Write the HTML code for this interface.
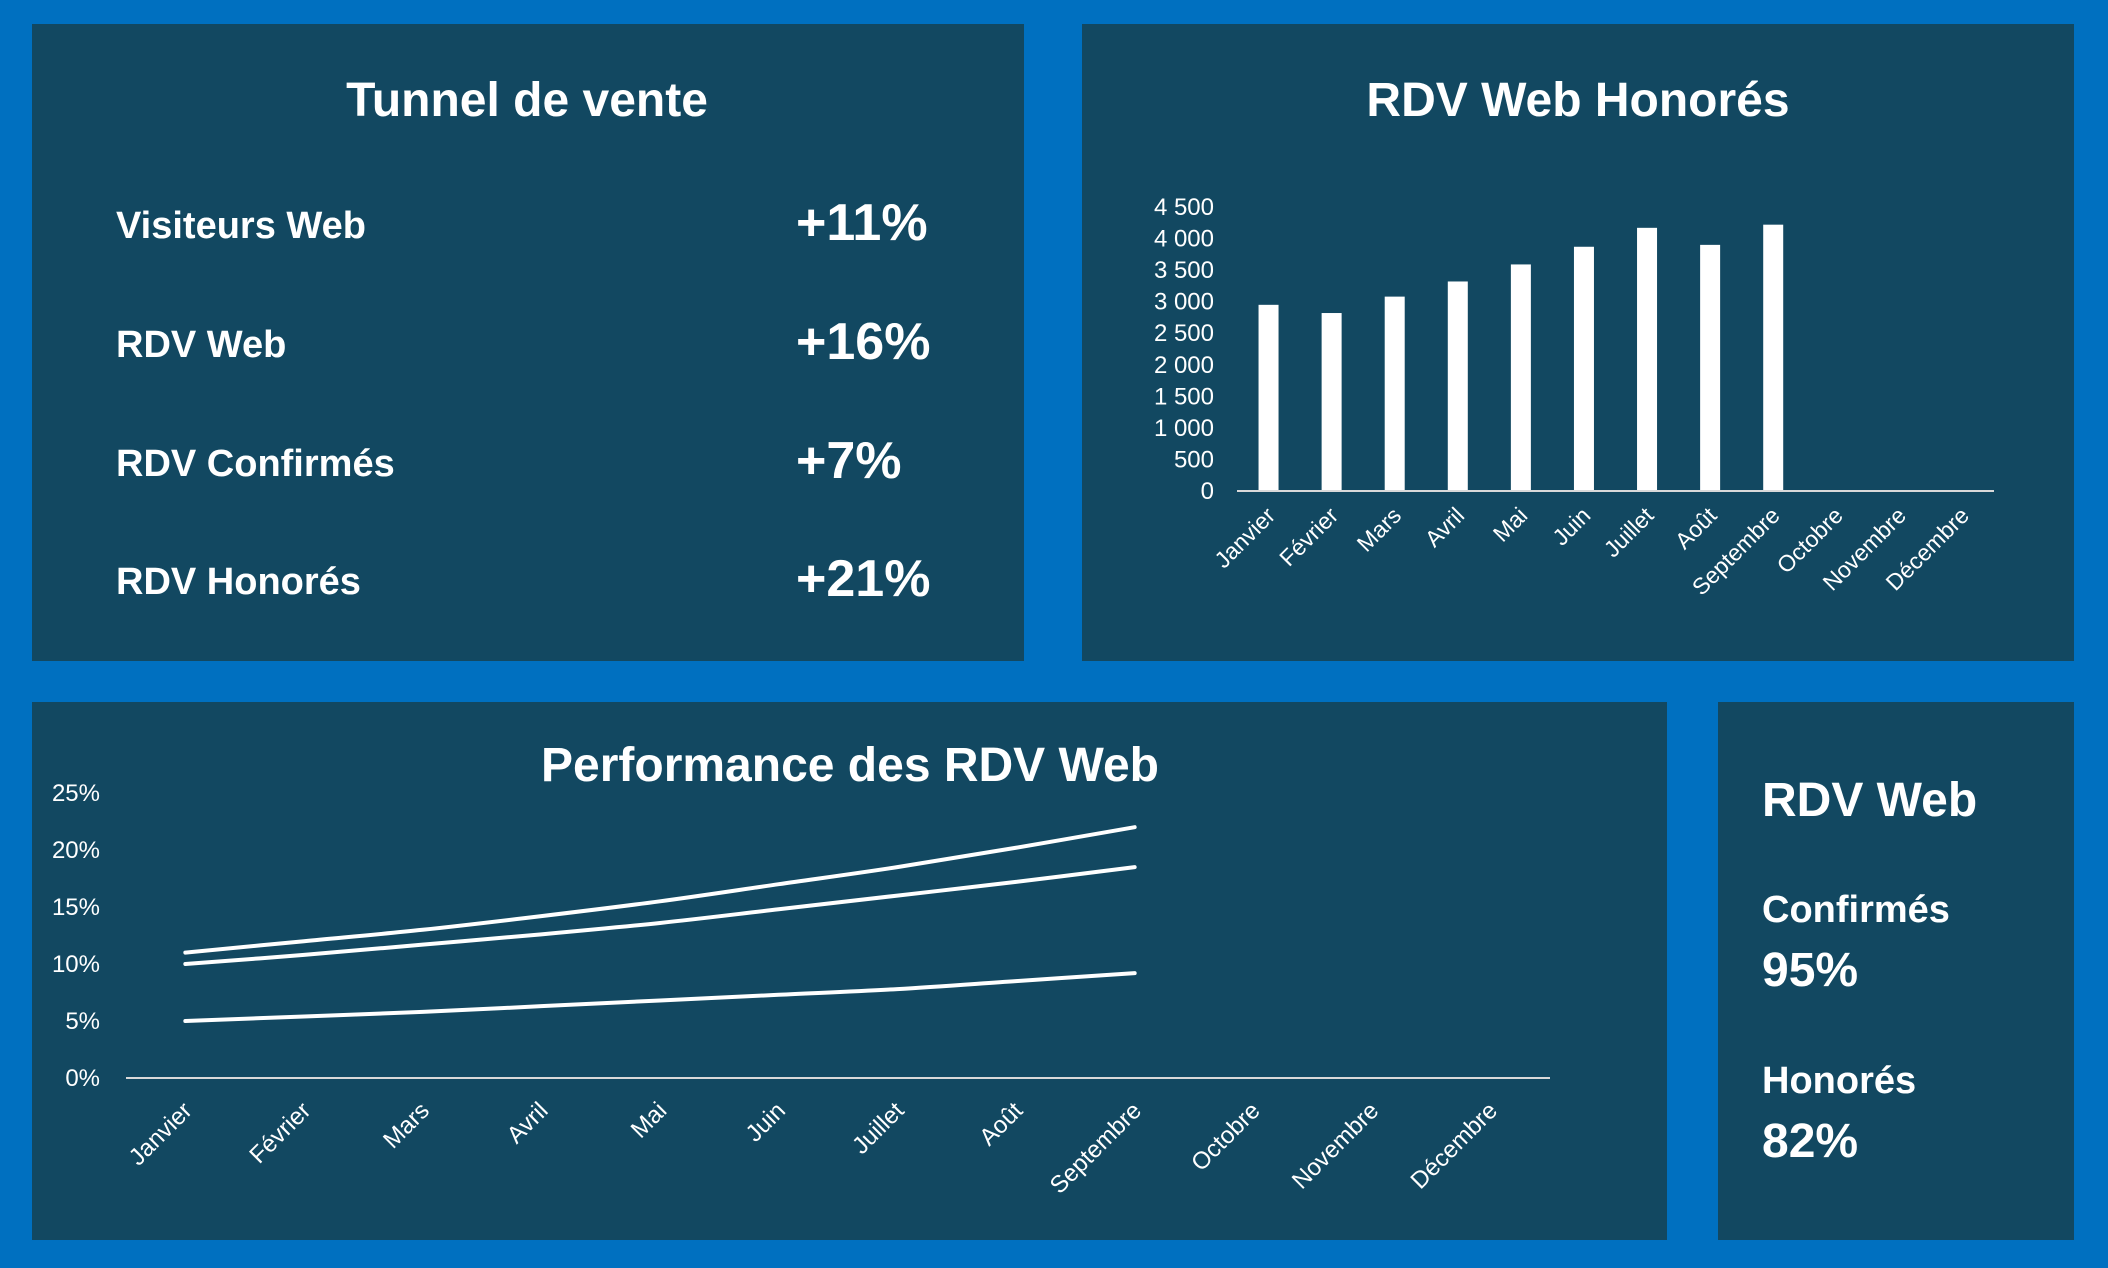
<!DOCTYPE html>
<html><head><meta charset="utf-8"><style>
html,body{margin:0;padding:0;background:#0070c0;}
svg{display:block;font-family:"Liberation Sans",sans-serif;}
</style></head><body>
<svg id="root" width="2108" height="1268" viewBox="0 0 2108 1268">
<rect x="0" y="0" width="2108" height="1268" fill="#0070c0"/>
<g>
<rect x="32" y="24" width="992" height="637" fill="#124861"/>
<text x="527" y="116" text-anchor="middle" fill="#fff" font-size="48" font-weight="bold">Tunnel de vente</text>
<text x="116" y="238" fill="#fff" font-size="38" font-weight="bold">Visiteurs Web</text>
<text x="796" y="240" fill="#fff" font-size="52" font-weight="bold">+11%</text>
<text x="116" y="357" fill="#fff" font-size="38" font-weight="bold">RDV Web</text>
<text x="796" y="359" fill="#fff" font-size="52" font-weight="bold">+16%</text>
<text x="116" y="476" fill="#fff" font-size="38" font-weight="bold">RDV Confirmés</text>
<text x="796" y="478" fill="#fff" font-size="52" font-weight="bold">+7%</text>
<text x="116" y="594" fill="#fff" font-size="38" font-weight="bold">RDV Honorés</text>
<text x="796" y="596" fill="#fff" font-size="52" font-weight="bold">+21%</text>
</g>
<g id="barPanel">
<rect x="1082" y="24" width="992" height="637" fill="#124861"/>
<text x="1578" y="116" text-anchor="middle" fill="#fff" font-size="48" font-weight="bold">RDV Web Honorés</text>
</g>
<g id="linePanel">
<rect x="32" y="702" width="1635" height="538" fill="#124861"/>
<text x="850" y="781" text-anchor="middle" fill="#fff" font-size="48" font-weight="bold">Performance des RDV Web</text>
</g>
<g>
<rect x="1718" y="702" width="356" height="538" fill="#124861"/>
<text x="1762" y="816" fill="#fff" font-size="48" font-weight="bold">RDV Web</text>
<text x="1762" y="922" fill="#fff" font-size="38" font-weight="bold">Confirmés</text>
<text x="1762" y="986" fill="#fff" font-size="48" font-weight="bold">95%</text>
<text x="1762" y="1093" fill="#fff" font-size="38" font-weight="bold">Honorés</text>
<text x="1762" y="1157" fill="#fff" font-size="48" font-weight="bold">82%</text>
</g>
</svg>
<script>
const NS="http://www.w3.org/2000/svg";
const months=["Janvier","Février","Mars","Avril","Mai","Juin","Juillet","Août","Septembre","Octobre","Novembre","Décembre"];
const barValues=[2950,2820,3080,3320,3590,3870,4170,3900,4220];
const barTicks=[0,500,1000,1500,2000,2500,3000,3500,4000,4500];
const barTickLabels=["0","500","1 000","1 500","2 000","2 500","3 000","3 500","4 000","4 500"];
const seriesTop=[11,12,13,14.2,15.5,17,18.5,20.2,22];
const seriesMid=[10,10.8,11.7,12.6,13.6,14.8,16,17.2,18.5];
const seriesLow=[5,5.4,5.8,6.3,6.8,7.3,7.8,8.5,9.2];
const lineTicks=[0,5,10,15,20,25];
const lineTickLabels=["0%","5%","10%","15%","20%","25%"];

function mk(tag,attrs,parent){const e=document.createElementNS(NS,tag);for(const k in attrs)e.setAttribute(k,attrs[k]);parent.appendChild(e);return e;}

// bar chart
const bp=document.getElementById("barPanel");
const bx0=1237,bx1=1994,by0=491,by1=207,bmax=4500;
const bw=(bx1-bx0)/12;
const byS=v=>by0-(v/bmax)*(by0-by1);
const bxC=i=>bx0+bw*(i+0.5);
barTicks.forEach((t,i)=>{
 const tx=mk("text",{x:1214,y:byS(t)+8,"text-anchor":"end",fill:"#fff","font-size":24},bp);
 tx.textContent=barTickLabels[i];
 
 
});
barValues.forEach((v,i)=>{
 const r=mk("rect",{x:bxC(i)-10,y:byS(v),width:20,height:by0-byS(v),fill:"#fff"},bp);
 
 
});
const bl=mk("line",{x1:bx0,y1:by0,x2:bx1,y2:by0,stroke:"#d9d9d9","stroke-width":2},bp);


months.forEach((m,i)=>{
 const x=bxC(i)+8,y=by0+26;
 const tx=mk("text",{x:x,y:y,"text-anchor":"end",fill:"#fff","font-size":23,transform:`rotate(-45 ${x} ${y})`},bp);
 tx.textContent=m;
 
 
});

// line chart
const lp=document.getElementById("linePanel");
const lx0=126,lx1=1550,ly0=1078,ly1=793,lmax=25;
const lw=(lx1-lx0)/12;
const lyS=v=>ly0-(v/lmax)*(ly0-ly1);
const lxC=i=>lx0+lw*(i+0.5);
lineTicks.forEach((t,i)=>{
 const tx=mk("text",{x:100,y:lyS(t)+8,"text-anchor":"end",fill:"#fff","font-size":24},lp);
 tx.textContent=lineTickLabels[i];
 
 
});
const ll=mk("line",{x1:lx0,y1:ly0,x2:lx1,y2:ly0,stroke:"#d9d9d9","stroke-width":2},lp);


function smoothPath(vals){
 const p=vals.map((v,i)=>[lxC(i),lyS(v)]);
 let d=`M${p[0][0]},${p[0][1]}`;
 for(let i=0;i<p.length-1;i++){
  const p0=p[Math.max(0,i-1)],p1=p[i],p2=p[i+1],p3=p[Math.min(p.length-1,i+2)];
  const c1=[p1[0]+(p2[0]-p0[0])/6,p1[1]+(p2[1]-p0[1])/6];
  const c2=[p2[0]-(p3[0]-p1[0])/6,p2[1]-(p3[1]-p1[1])/6];
  d+=` C${c1[0]},${c1[1]} ${c2[0]},${c2[1]} ${p2[0]},${p2[1]}`;
 }
 return d;
}
[["series-honores",seriesTop],["series-rdv-web",seriesMid],["series-confirmes",seriesLow]].forEach(([n,s])=>{
 const pa=mk("path",{d:smoothPath(s),fill:"none",stroke:"#fff","stroke-width":4,"stroke-linecap":"round"},lp);
 
 
});
months.forEach((m,i)=>{
 const x=lxC(i)+8,y=ly0+34;
 const tx=mk("text",{x:x,y:y,"text-anchor":"end",fill:"#fff","font-size":24,transform:`rotate(-45 ${x} ${y})`},lp);
 tx.textContent=m;
 
 
});
</script>
</body></html>
